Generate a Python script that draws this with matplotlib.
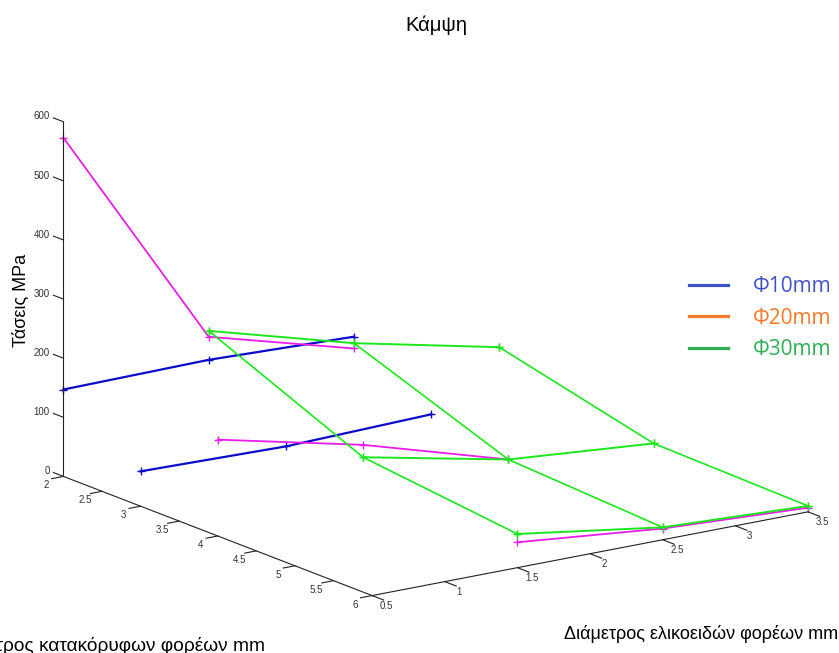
import numpy as np
import matplotlib
matplotlib.use("Agg")
import matplotlib.pyplot as plt
from matplotlib.lines import Line2D
from mpl_toolkits.mplot3d import proj3d

# Helical bar diameter (mm), vertical bar diameter (mm), bending stress (MPa)
# Φ10 specimens
phi10_helical = [0.5, 1.5, 2.5]
phi10_vertical = [2, 3]
phi10_stress = [[147, 150, 142],
                [59, 54, 61]]

# Φ20 specimens, one helical row per vertical diameter
phi20_helical = [[0.5, 1.5, 2.5],
                 [0.5, 1.5, 2.5],
                 [1.5, 2.5, 3.5]]
phi20_vertical = [2, 4, 6]
phi20_stress = [[573, 189, 122],
                [163, 107, 35],
                [43, 19, 7]]

# Φ30 specimens
phi30_helical = [1.5, 2.5, 3.5]
phi30_vertical = [2, 4, 6]
phi30_stress = [[199, 131, 77],
                [86, 35, 15],
                [57, 21, 10]]

legend_labels = ['Φ10mm', 'Φ20mm', 'Φ30mm']
legend_colors = ['#4152c8', '#f47a2a', '#2eae52']

x_ticks = np.arange(0.5, 3.51, 0.5)
y_ticks = np.arange(2, 6.01, 0.5)
z_ticks = np.arange(0, 601, 100)

blue = '#0c0cc8'
magenta = '#e61ee6'
green = '#1ee61e'
axis_color = '#222222'
font = 'Liberation Sans'

W, H = 839, 653
fig = plt.figure(figsize=(W / 100, H / 100), dpi=100)
ax = fig.add_axes([0.1, 0.1, 0.6, 0.6 * W / H], projection='3d', proj_type='ortho')
ax.set_axis_off()
ax.set_xlim(0.5, 3.5)
ax.set_ylim(2, 6)
ax.set_zlim(0, 600)
ax.set_box_aspect((1, 1.004, 0.691))
ax.view_init(elev=-15.8, azim=-54.8)

mk = dict(marker='+', ms=6, mew=1)

# Φ10 rows
for y, row in zip(phi10_vertical, phi10_stress):
    ax.plot(phi10_helical, [y] * len(row), row, color=blue, lw=1.6, **mk)

# Φ20 rows
for xs, y, row in zip(phi20_helical, phi20_vertical, phi20_stress):
    ax.plot(xs, [y] * len(row), row, color=magenta, lw=1.3, **mk)

# Φ30 wireframe: rows then columns
s30 = np.array(phi30_stress)
for i, y in enumerate(phi30_vertical):
    ax.plot(phi30_helical, [y] * 3, s30[i], color=green, lw=1.4, **mk)
for j, x in enumerate(phi30_helical):
    ax.plot([x] * 3, phi30_vertical, s30[:, j], color=green, lw=1.2, **mk)

# Axis lines and tick marks
akw = dict(color=axis_color, lw=0.8)
ax.plot([0.5, 0.5], [2, 2], [0, 600], **akw)
ax.plot([0.5, 0.5], [2, 6], [0, 0], **akw)
ax.plot([0.5, 3.5], [6, 6], [0, 0], **akw)
for z in z_ticks:
    ax.plot([0.5, 0.5], [2, 1.87], [z, z], **akw)
for y in y_ticks:
    ax.plot([0.5, 0.42], [y, y], [0, 0], **akw)
for x in x_ticks:
    ax.plot([x, x], [6, 6.15], [0, 0], **akw)

# Tick labels, projected to flat text so they stay upright
M = ax.get_proj()
tkw = dict(fontsize=7, family=font, color='#333333', transform=ax.transData)


def tick_label(x, y, z, value, **kw):
    px, py, _ = proj3d.proj_transform(x, y, z, M)
    ax.text2D(px, py, f'{value:g}', **tkw, **kw)


for z in z_ticks:
    tick_label(0.5, 1.82, z, z, ha='right', va='center')
for y in y_ticks:
    tick_label(0.383, y, -9.7, y, ha='center', va='center')
for x in x_ticks:
    tick_label(x, 6.188, -8.3, x, ha='center', va='center')

# Size and place the 3D box inside the figure
fig.canvas.draw()
corners = np.array([[0.5, 2, 0], [0.5, 6, 0], [3.5, 6, 0], [0.5, 2, 600]], float)
corner_px = np.array([[63.5, 476], [371.5, 595], [808.4, 512.6], [63.5, 122]])
px, py, _ = proj3d.proj_transform(corners[:, 0], corners[:, 1], corners[:, 2], M)
frac = ax.transAxes.inverted().transform(ax.transData.transform(np.column_stack([px, py])))
A = []
rhs = []
for (fx, fy), (tx, ty) in zip(frac, corner_px):
    A.append([1, 0, fx]); rhs.append(tx)
    A.append([0, 1, fy]); rhs.append(H - ty)
L, B, S = np.linalg.lstsq(np.array(A), np.array(rhs), rcond=None)[0]
ax.set_position([L / W, B / H, S / W, S / H])

# Title and axis labels
fig.text(436 / W, 1 - 25 / H, 'Κάμψη', ha='center', va='center', fontsize=14.5, family=font)
fig.text(21.5 / W, 1 - 300 / H, 'Τάσεις MPa', ha='center', va='center', rotation=90,
         fontsize=13, family=font)
fig.text(838 / W, 1 - 634 / H, 'Διάμετρος ελικοειδών φορέων mm', ha='right', va='center',
         fontsize=13, family=font)
fig.text(265 / W, 1 - 646 / H, 'Διάμετρος κατακόρυφων φορέων mm', ha='right', va='center',
         fontsize=13.8, family=font)

# Legend
handles = [Line2D([], [], color=c, lw=2.3) for c in legend_colors]
fig.legend(handles, legend_labels, loc='center left', bbox_to_anchor=(689 / W, 1 - 318 / H),
           frameon=False, labelcolor='linecolor', handlelength=1.85, handletextpad=1.2,
           labelspacing=0.5, borderpad=0, borderaxespad=0,
           prop=dict(family='Open Sans', size=15))

fig.savefig('out.png', dpi=100)
